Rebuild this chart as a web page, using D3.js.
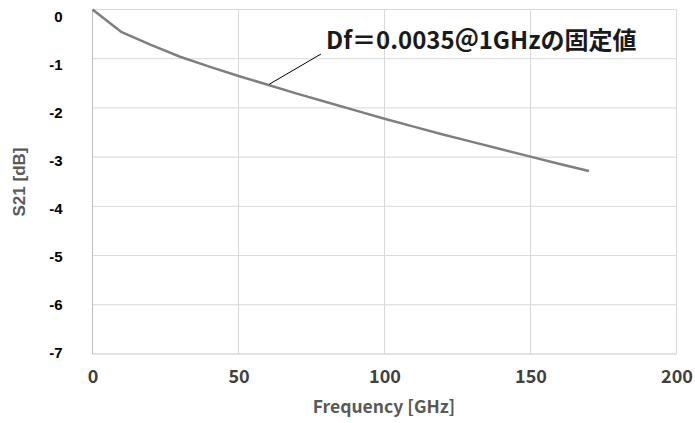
<!DOCTYPE html>
<html><head><meta charset="utf-8">
<script src="https://cdn.jsdelivr.net/npm/d3@7"></script>
<style>body{margin:0;background:#fff}svg{display:block}</style>
</head><body>
<svg id="c" width="695" height="423"></svg>
<script>
const freq = [0,10,20,30,40,50,60,70,80,90,100,110,120,130,140,150,160,170];
const s21 = [0,-0.46,-0.72,-0.96,-1.16,-1.35,-1.53,-1.71,-1.88,-2.05,-2.22,-2.38,-2.54,-2.69,-2.84,-2.99,-3.14,-3.28];
const xTicks = [0,50,100,150,200];
const yTicks = [0,-1,-2,-3,-4,-5,-6,-7];
const xTitle = "Frequency [GHz]";
const yTitle = "S21 [dB]";
const note = "Df＝0.0035＠1GHzの固定値";
const noteAt = [60.5, -1.52];

const svg = d3.select("#c");
const x = d3.scaleLinear().domain([0,200]).range([92.5,676.5]);
const y = d3.scaleLinear().domain([-7,0]).range([354,9.5]);
// tick label placement scale (labels are spaced slightly tighter than gridlines)
const yLab = d3.scaleLinear().domain([-7,0]).range([352.3,16]);

// grid
svg.append("g").selectAll("line").data(yTicks).join("line")
  .attr("x1",x(0)).attr("x2",x(200)).attr("y1",d=>y(d)).attr("y2",d=>y(d))
  .attr("stroke","#d9d9d9").attr("stroke-width",1);
svg.append("g").selectAll("line").data(xTicks).join("line")
  .attr("y1",y(0)).attr("y2",y(-7)).attr("x1",d=>x(d)).attr("x2",d=>x(d))
  .attr("stroke",d=>d===0?"#bfbfbf":"#d9d9d9").attr("stroke-width",1);
svg.append("line").attr("x1",x(0)).attr("x2",x(200)).attr("y1",y(-7)).attr("y2",y(-7))
  .attr("stroke","#d9d9d9");

// axes labels via d3 axes
const ya = svg.append("g").attr("transform",`translate(${x(0)},0)`)
  .call(d3.axisLeft(yLab).tickValues(yTicks).tickSize(0).tickPadding(30).tickFormat(d=>String(d)));
ya.select(".domain").remove();
ya.selectAll("text").attr("font-family","'Liberation Sans', Arial, sans-serif")
  .attr("font-weight","bold").attr("font-size","15px").attr("fill","#000").attr("dy","0.35em");

const xa = svg.append("g").attr("transform",`translate(0,${y(-7)})`)
  .call(d3.axisBottom(x).tickValues(xTicks).tickSize(0).tickPadding(19).tickFormat(d=>String(d)));
xa.select(".domain").remove();
xa.selectAll("text").attr("font-family","'Noto Sans CJK JP', sans-serif")
  .attr("font-weight","bold").attr("font-size","18px").attr("fill","#404040").attr("dy","0.55em");

// line
svg.append("path").datum(freq.map((f,i)=>[f,s21[i]]))
  .attr("d", d3.line().x(d=>x(d[0])).y(d=>y(d[1])))
  .attr("fill","none").attr("stroke","#7f7f7f").attr("stroke-width",2.5).attr("stroke-linejoin","round");

// titles
svg.append("text").attr("x",384).attr("y",413).attr("text-anchor","middle")
  .attr("font-family","'Noto Sans CJK JP', sans-serif").attr("font-weight","bold")
  .attr("font-size","17.5px").attr("fill","#595959").text(xTitle);
svg.append("text").attr("transform","translate(25,182) rotate(-90)").attr("text-anchor","middle")
  .attr("font-family","'Liberation Sans', Arial, sans-serif").attr("font-weight","bold")
  .attr("font-size","17px").attr("fill","#595959").text(yTitle);

// annotation
svg.append("line").attr("x1",x(noteAt[0])).attr("y1",y(noteAt[1]))
  .attr("x2",321).attr("y2",54).attr("stroke","#000").attr("stroke-width",1);
svg.append("text").attr("x",326).attr("y",49)
  .attr("font-family","'Noto Sans CJK JP', sans-serif").attr("font-weight","bold")
  .attr("font-size","24px").attr("fill","#1a1a1a").text(note);
</script>
</body></html>
